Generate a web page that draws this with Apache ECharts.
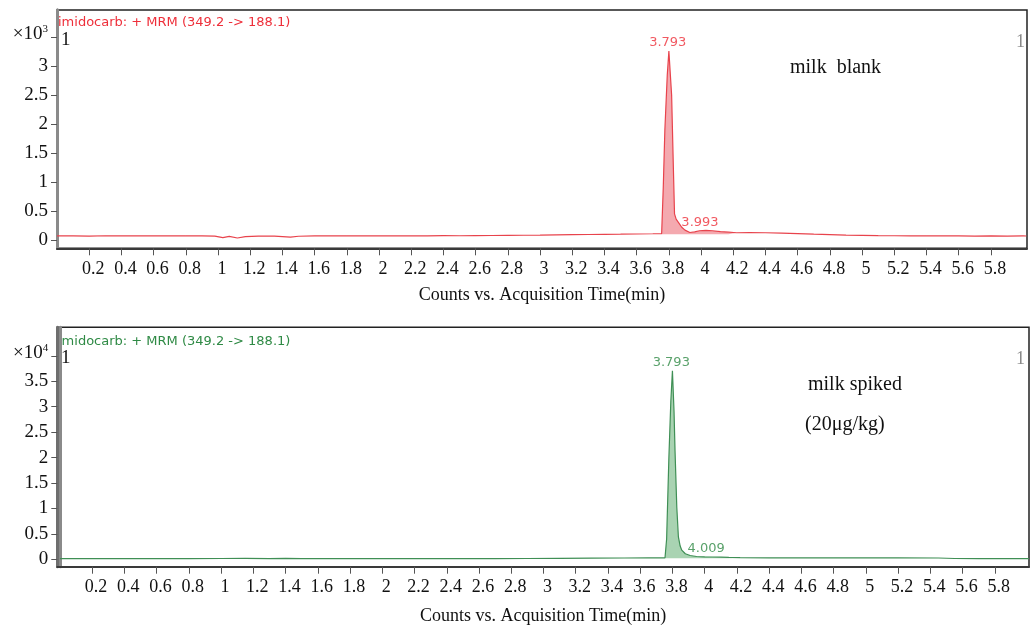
<!DOCTYPE html>
<html><head><meta charset="utf-8">
<script src="https://cdn.jsdelivr.net/npm/echarts@6/dist/echarts.min.js"></script>
<style>html,body{margin:0;padding:0;background:#fff}#c{width:1031px;height:629px}</style>
</head><body><div id="c"></div>
<script>
// ---- tick values ----
const xTickValues = [0.2,0.4,0.6,0.8,1,1.2,1.4,1.6,1.8,2,2.2,2.4,2.6,2.8,3,3.2,3.4,3.6,3.8,4,4.2,4.4,4.6,4.8,5,5.2,5.4,5.6,5.8];
const yTicksBlank = [0,0.5,1,1.5,2,2.5,3,3.5];
const yTicksSpiked = [0,0.5,1,1.5,2,2.5,3,3.5,4];
const blankExponent = '3';
const spikedExponent = '4';

// ---- milk blank chromatogram (counts ×10^3) ----
const blankTime = [0.00,0.10,0.20,0.30,0.40,0.50,0.60,0.70,0.80,0.90,0.98,1.03,1.07,1.12,1.17,1.25,1.35,1.45,1.50,1.60,1.70,1.80,1.90,2.00,2.10,2.20,2.30,2.40,2.50,2.60,2.70,2.80,2.90,3.00,3.10,3.20,3.30,3.40,3.50,3.60,3.70,3.755,3.765,3.775,3.790,3.800,3.817,3.827,3.835,3.845,3.860,3.880,3.900,3.930,3.960,3.990,4.030,4.070,4.120,4.170,4.220,4.30,4.40,4.50,4.60,4.70,4.80,4.90,5.00,5.10,5.20,5.30,5.40,5.50,5.60,5.70,5.80,5.90,6.00,6.02];
const blankCounts = [0.070,0.072,0.068,0.074,0.070,0.072,0.070,0.073,0.071,0.070,0.068,0.040,0.062,0.035,0.060,0.068,0.066,0.050,0.065,0.070,0.072,0.070,0.071,0.073,0.072,0.074,0.073,0.075,0.074,0.076,0.078,0.080,0.082,0.085,0.090,0.092,0.095,0.098,0.100,0.104,0.108,0.112,0.90,1.90,2.85,3.26,2.50,1.34,0.45,0.36,0.30,0.22,0.17,0.130,0.140,0.160,0.168,0.160,0.145,0.135,0.125,0.128,0.125,0.120,0.110,0.100,0.092,0.085,0.080,0.076,0.074,0.072,0.070,0.072,0.070,0.068,0.070,0.068,0.070,0.069];
const blankPeakRT = [3.793, 3.993];
const blankPeakH = [3.26, 0.16];
const blankIntegration = [3.755, 4.22];
const blankFillBase = 0.10;

// ---- milk spiked chromatogram (counts ×10^4) ----
const spikedTime = [0.00,0.20,0.40,0.60,0.80,1.00,1.15,1.30,1.40,1.50,1.70,1.90,2.10,2.30,2.50,2.70,2.90,3.10,3.30,3.50,3.65,3.754,3.764,3.778,3.790,3.800,3.810,3.816,3.827,3.837,3.848,3.858,3.880,3.910,3.950,4.000,4.050,4.100,4.150,4.220,4.40,4.60,4.80,5.00,5.20,5.45,5.55,5.70,5.85,6.012];
const spikedCounts = [0.012,0.012,0.013,0.012,0.013,0.016,0.018,0.014,0.017,0.014,0.013,0.014,0.013,0.014,0.014,0.015,0.016,0.020,0.024,0.026,0.028,0.030,0.40,2.00,3.10,3.705,2.90,2.15,1.03,0.44,0.26,0.18,0.11,0.075,0.055,0.050,0.046,0.042,0.038,0.034,0.030,0.030,0.029,0.029,0.028,0.026,0.016,0.014,0.013,0.013];
const spikedPeakRT = [3.793, 4.009];
const spikedPeakH = [3.705, 0.05];
const spikedIntegration = [3.754, 4.22];
const spikedFillBase = 0.02;

const SERIF = '"Liberation Serif", "Times New Roman", serif';
const SANS = '"DejaVu Sans", sans-serif';
const RED = '#e8434c', RED_FILL = 'rgba(240,140,148,0.75)', RED_TXT = '#ee2f3a';
const GREEN = '#3f8f55', GREEN_FILL = 'rgba(140,196,152,0.75)', GREEN_TXT = '#2f8a45';

function pairs(t, v) { return t.map((x, i) => [x, v[i]]); }
function inRange(t, v, r) { return t.map((x, i) => [x, v[i]]).filter(p => p[0] >= r[0] && p[0] <= r[1]); }

const grids = [
  { left: 57, right: 4, top: 10, height: 238.3 },
  { left: 57.3, right: 2, top: 327.3, height: 239.4 }
];

function xAxisFor(gi, min, max, nameGap) {
  return {
    type: 'value', gridIndex: gi, min: min, max: max,
    name: 'Counts vs. Acquisition Time(min)', nameLocation: 'middle', nameGap: nameGap,
    nameTextStyle: { fontFamily: SERIF, fontSize: 18, color: '#111' },
    axisLine: { show: true, onZero: false, lineStyle: { color: '#3a3a3a', width: 2 } },
    axisTick: { show: true, customValues: xTickValues, length: 7, lineStyle: { color: '#555' } },
    axisLabel: { customValues: xTickValues, fontFamily: SERIF, fontSize: 18, color: '#111', margin: 12, padding: [0, 0, 0, 8] },
    splitLine: { show: false }
  };
}
function yAxisFor(gi, min, max, ticks, exp) {
  const top = ticks[ticks.length - 1];
  return {
    type: 'value', gridIndex: gi, min: min, max: max,
    axisLine: { show: true, onZero: false, lineStyle: { color: '#6e6e6e', width: 3 } },
    axisTick: { show: true, customValues: ticks, length: 6, lineStyle: { color: '#555' } },
    axisLabel: {
      customValues: ticks, fontFamily: SERIF, fontSize: 19, color: '#111', margin: 9,
      formatter: v => (Math.abs(v - top) < 1e-9 ? '{m|×10}{e|' + exp + '}' : String(v)),
      rich: {
        m: { fontFamily: SERIF, fontSize: 19, color: '#111', padding: [0, 0, 6, 0] },
        e: { fontFamily: SERIF, fontSize: 11, color: '#111', padding: [0, 0, 16, 0] }
      }
    },
    splitLine: { show: false }
  };
}
function rightAxis(gi) {
  return {
    type: 'value', gridIndex: gi, position: 'right',
    axisLine: { show: true, lineStyle: { color: '#8a8a8a', width: 3 } },
    axisTick: { show: false }, axisLabel: { show: false }, splitLine: { show: false }
  };
}

function chromSeries(gi, t, v, range, base, rt, h, line, fill, txt) {
  return [
    { type: 'line', xAxisIndex: gi, yAxisIndex: gi * 2, data: inRange(t, v, range), symbol: 'none',
      lineStyle: { width: 0 }, areaStyle: { color: fill, origin: base, opacity: 1 }, z: 2, silent: true },
    { type: 'line', xAxisIndex: gi, yAxisIndex: gi * 2, data: pairs(t, v), symbol: 'none',
      lineStyle: { color: line, width: 1.2 }, z: 3, silent: true },
    { type: 'scatter', xAxisIndex: gi, yAxisIndex: gi * 2, data: pairs(rt, h), symbolSize: 0, z: 4,
      label: { show: true, position: 'top', distance: 2, formatter: p => p.value[0].toFixed(3),
        fontFamily: SANS, fontSize: 13, color: txt } }
  ];
}

const chart = echarts.init(document.getElementById('c'), null, { renderer: 'canvas' });
chart.setOption({
  animation: false,
  backgroundColor: '#fff',
  grid: grids.map(g => Object.assign({ show: true, borderColor: '#222', borderWidth: 1.5, backgroundColor: 'transparent' }, g)),
  xAxis: [xAxisFor(0, 0, 6.024, 37.7), xAxisFor(1, -0.016, 6.012, 40.5)],
  yAxis: [
    yAxisFor(0, -0.143, 3.97, yTicksBlank, blankExponent), rightAxis(0),
    yAxisFor(1, -0.145, 4.56, yTicksSpiked, spikedExponent), rightAxis(1)
  ],
  series: [].concat(
    chromSeries(0, blankTime, blankCounts, blankIntegration, blankFillBase, blankPeakRT, blankPeakH, RED, RED_FILL, RED_TXT),
    chromSeries(1, spikedTime, spikedCounts, spikedIntegration, spikedFillBase, spikedPeakRT, spikedPeakH, GREEN, GREEN_FILL, GREEN_TXT)
  ),
  graphic: [
    { type: 'text', left: 58, top: 16, style: { text: 'imidocarb: + MRM (349.2 -> 188.1)', font: '13px ' + SANS, fill: RED_TXT } },
    { type: 'text', left: 58, top: 335, style: { text: 'imidocarb: + MRM (349.2 -> 188.1)', font: '13px ' + SANS, fill: GREEN_TXT } },
    { type: 'text', left: 61, top: 31, style: { text: '1', font: '19px ' + SERIF, fill: '#111' } },
    { type: 'text', left: 61, top: 349, style: { text: '1', font: '19px ' + SERIF, fill: '#111' } },
    { type: 'text', left: 1016, top: 33, style: { text: '1', font: '18px ' + SERIF, fill: '#8a8a8a' } },
    { type: 'text', left: 1016, top: 350, style: { text: '1', font: '18px ' + SERIF, fill: '#8a8a8a' } },
    { type: 'text', left: 790, top: 58, style: { text: 'milk  blank', font: '20px ' + SERIF, fill: '#111' } },
    { type: 'text', left: 808, top: 375, style: { text: 'milk spiked', font: '20px ' + SERIF, fill: '#111' } },
    { type: 'text', left: 805, top: 415, style: { text: '(20μg/kg)', font: '20px ' + SERIF, fill: '#111' } }
  ]
});
</script>
</body></html>
